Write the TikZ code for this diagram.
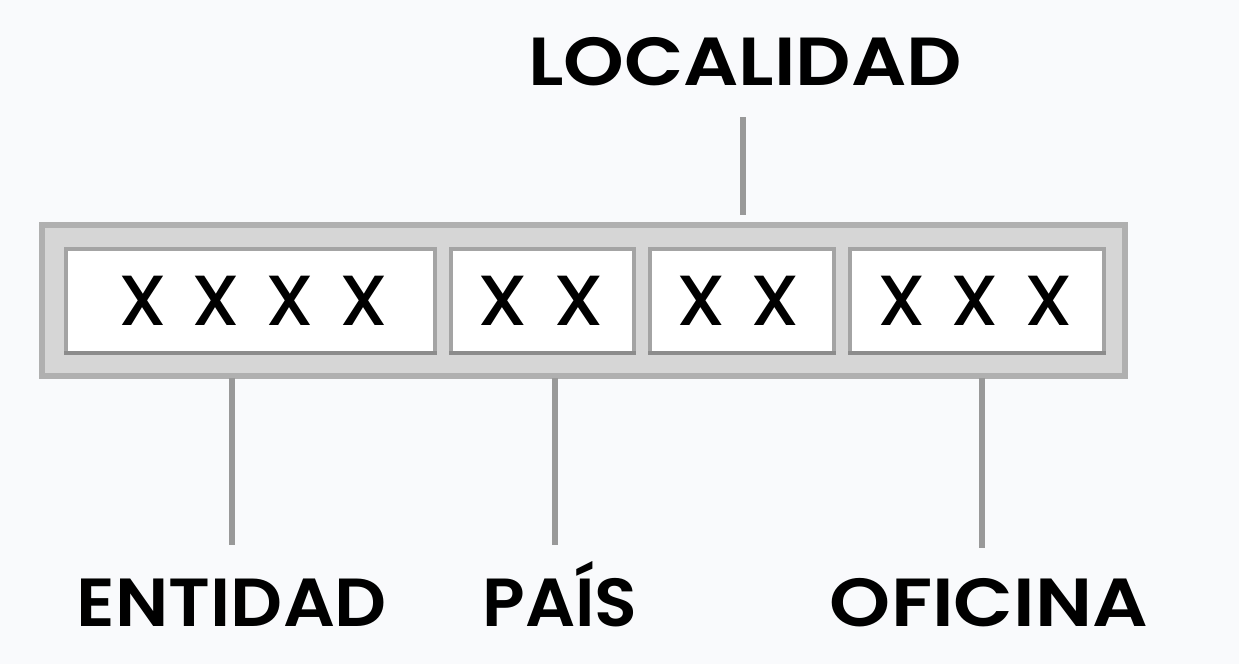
\documentclass[tikz,border=0pt]{standalone}
\usepackage{graphicx}
\usepackage{fontspec}
\setmainfont{Poppins}[BoldFont={Poppins SemiBold}]
\newfontfamily\xfont{Poppins Medium}
\definecolor{bgc}{HTML}{F9FAFC}
\definecolor{framefill}{HTML}{D6D6D6}
\definecolor{framedraw}{HTML}{B0B0B0}
\definecolor{boxdraw}{HTML}{A4A4A4}
\definecolor{boxshade}{HTML}{8C8C8C}
\definecolor{linec}{HTML}{999999}
\newcommand\fitw[2]{\resizebox{#1}{\height}{#2}}
\tikzset{
  lbl/.style={font=\fontsize{68}{72}\selectfont\bfseries, text=black, inner sep=0pt, anchor=base},
  xs/.style={font=\fontsize{71}{74}\selectfont\xfont, text=black, inner sep=0pt, anchor=base},
  field/.style={draw=boxdraw, line width=4pt, fill=white},
  fieldshade/.style={draw=boxshade, line width=4pt},
  lead/.style={draw=linec, line width=6pt},
}
\begin{document}
\begin{tikzpicture}[x=1pt,y=-1pt]
\fill[bgc] (0,0) rectangle (1239,664);
\useasboundingbox (0,0) rectangle (1239,664);
% outer frame
\draw[draw=framedraw, line width=6pt, fill=framefill] (42,225) rectangle (1125,376);
% fields
\draw[field] (66,249) rectangle (435,353);
\draw[field] (451,249) rectangle (634,353);
\draw[field] (650,249) rectangle (834,353);
\draw[field] (850,249) rectangle (1104,353);
\draw[fieldshade] (64,353) -- (437,353);
\draw[fieldshade] (449,353) -- (636,353);
\draw[fieldshade] (648,353) -- (836,353);
\draw[fieldshade] (848,353) -- (1106,353);
\node[xs] (f1) at (253,325) {\fitw{270pt}{X\hspace{24pt}X\hspace{24pt}X\hspace{24pt}X}};
\node[xs] (f2) at (541,325) {\fitw{127pt}{X\hspace{24pt}X}};
\node[xs] (f3) at (738,325) {\fitw{124pt}{X\hspace{24pt}X}};
\node[xs] (f4) at (975,325) {\fitw{195pt}{X\hspace{24pt}X\hspace{24pt}X}};
% labels
\node[lbl] (loc) at (745,85) {\fitw{434pt}{LOCALIDAD}};
\node[lbl] (ent) at (232,626) {\fitw{310pt}{ENTIDAD}};
\node[lbl] (pais) at (560,626) {\fitw{155pt}{PAÍS}};
\node[lbl] (ofi) at (989,626) {\fitw{318pt}{OFICINA}};
% leaders
\coordinate (locA) at (743,117);
\coordinate (locB) at (743,215);
\draw[lead] (locA) -- (locB);
\coordinate (entA) at (232,378);
\coordinate (entB) at (232,545);
\draw[lead] (entA) -- (entB);
\coordinate (paisA) at (555,378);
\coordinate (paisB) at (555,545);
\draw[lead] (paisA) -- (paisB);
\coordinate (ofiA) at (982,378);
\coordinate (ofiB) at (982,548);
\draw[lead] (ofiA) -- (ofiB);
\end{tikzpicture}
\end{document}
